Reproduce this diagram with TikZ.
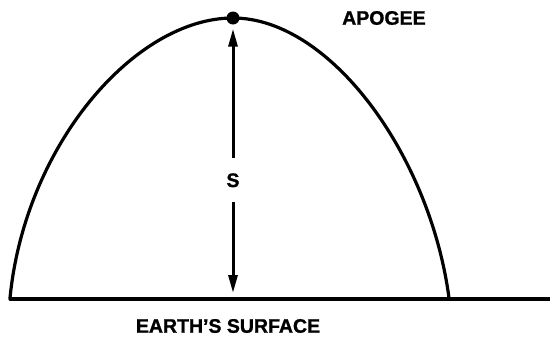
\documentclass[tikz,border=0pt]{standalone}
\usepackage{fontspec}
\setmainfont{Liberation Sans}
\newfontfamily\heavyfont[FakeBold=1.2]{Liberation Sans Bold}
\usetikzlibrary{arrows.meta, positioning}

\tikzset{
  label text/.style={font=\fontsize{19.5}{20}\heavyfont, inner sep=0pt},
  path line/.style={line width=3.2pt, line join=round, line cap=round},
  height arrow/.style={line width=3pt, -{Triangle[length=18pt,width=9pt]}}
}

\begin{document}
\begin{tikzpicture}[x=1pt, y=-1pt]
    \useasboundingbox (0,0) rectangle (550,338);

    % earth's surface and the flight path
    \draw[path line] (10,299) -- (550,299);
    \draw[path line] (10,298) .. controls (25,145) and (135,18) .. (233,18)
                              .. controls (330,18) and (430,155) .. (449,298);

    % apogee point and the height S
    \node[circle, fill=black, minimum size=13pt, inner sep=0pt] (apex) at (233,18) {};
    \node[label text, text height=14pt, text depth=0pt, inner ysep=15pt] (height) at (233,180) {S};
    \coordinate (ground) at (233,299);

    \draw[height arrow, shorten >=4pt] (height.north) -- (apex.south);
    \draw[height arrow, shorten >=6pt] (height.south) -- (ground);

    % labels
    \node[label text, anchor=west] (apogee) at (342,18) {APOGEE};
    \node[label text] (surface) at (228,326) {EARTH’S SURFACE};
  \end{tikzpicture}
\end{document}
